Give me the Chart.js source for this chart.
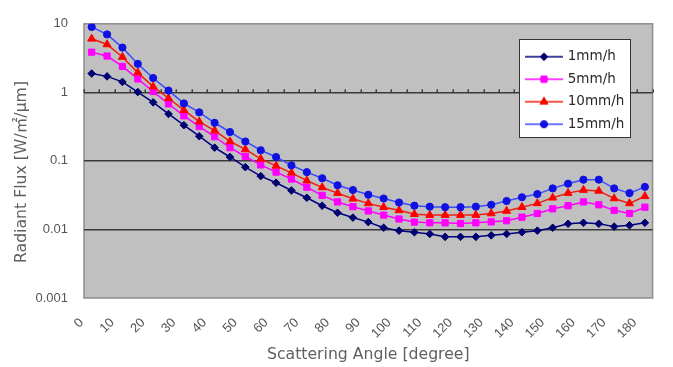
<!DOCTYPE html>
<html><head><meta charset="utf-8">
<script src="https://cdn.jsdelivr.net/npm/chart.js@4.4.1/dist/chart.umd.min.js"></script>
<style>html,body{margin:0;padding:0;background:#fff;}canvas{display:block;}</style>
</head><body>
<canvas id="c" width="673" height="367"></canvas>
<script>
// ---- data ----
const angles = ['0','5','10','15','20','25','30','35','40','45','50','55','60','65','70','75','80','85','90',
  '95','100','105','110','115','120','125','130','135','140','145','150','155','160','165','170','175','180'];
const seriesNames = ['1mm/h','5mm/h','10mm/h','15mm/h'];
const flux1mm = [1.88,1.71,1.42,1.01,0.714,0.484,0.332,0.229,0.156,0.114,0.081,0.060,0.048,0.037,0.029,0.0222,
  0.0175,0.0149,0.0128,0.0106,0.0096,0.0091,0.0086,0.0078,0.0078,0.0078,0.0082,0.0086,0.0091,0.0096,0.0106,
  0.0121,0.0125,0.0121,0.0110,0.0115,0.0125];
const flux5mm = [3.85,3.39,2.39,1.57,1.03,0.68,0.455,0.318,0.225,0.156,0.116,0.0873,0.0686,0.0544,0.0413,0.0314,
  0.0252,0.0215,0.0186,0.0162,0.0142,0.0128,0.0125,0.0125,0.0122,0.0125,0.0129,0.0134,0.0151,0.0171,0.0200,
  0.0222,0.0252,0.0229,0.0190,0.0171,0.0211];
const flux10mm = [6.04,5.0,3.28,1.94,1.21,0.82,0.55,0.373,0.277,0.192,0.147,0.107,0.0846,0.067,0.0515,0.041,
  0.0339,0.028,0.024,0.0211,0.019,0.0167,0.0162,0.0162,0.0162,0.0162,0.0171,0.0186,0.0211,0.024,0.029,
  0.0339,0.0376,0.0365,0.0283,0.024,0.0305];
const flux15mm = [9.0,7.0,4.5,2.6,1.62,1.06,0.69,0.51,0.36,0.264,0.192,0.143,0.114,0.0863,0.0686,0.0558,
  0.0441,0.0376,0.0321,0.0283,0.0247,0.0222,0.0215,0.0211,0.0211,0.0215,0.0229,0.026,0.0295,0.0328,0.0397,
  0.0465,0.0532,0.0532,0.0397,0.0339,0.0418];
const yTickValues = [10, 1, 0.1, 0.01, 0.001];
const majorGridValues = [1, 0.1, 0.01];

// ---- styles ----
const FONT = "'DejaVu Sans', 'Noto Sans CJK JP', sans-serif";
const TICKFONT = "'Liberation Sans', Arial, sans-serif";
const styles = [
  {line:'#000080', fill:'#000070', point:'rectRot', r:3.8},
  {line:'#ff00ff', fill:'#ff00ff', point:'rect', r:4.4},
  {line:'#f01e0a', fill:'#ff0000', point:'triangle', r:4.6},
  {line:'#3a4aff', fill:'#1010e0', point:'circle', r:3.6}
];

function makeIcon(s) {
  const c = document.createElement('canvas');
  c.width = 38; c.height = 12;
  const g = c.getContext('2d');
  g.strokeStyle = s.line; g.lineWidth = 1.5;
  g.beginPath(); g.moveTo(0, 6); g.lineTo(38, 6); g.stroke();
  g.fillStyle = s.fill; g.strokeStyle = s.fill; g.lineWidth = 1;
  g.beginPath();
  const cx = 19, cy = 6, r = s.r;
  if (s.point === 'rectRot') { g.moveTo(cx, cy - r); g.lineTo(cx + r, cy); g.lineTo(cx, cy + r); g.lineTo(cx - r, cy); g.closePath(); }
  else if (s.point === 'rect') { const h = r * Math.SQRT1_2; g.rect(cx - h, cy - h, 2 * h, 2 * h); }
  else if (s.point === 'triangle') { g.moveTo(cx, cy - r); g.lineTo(cx + r * 0.87, cy + r * 0.5); g.lineTo(cx - r * 0.87, cy + r * 0.5); g.closePath(); }
  else { g.arc(cx, cy, r, 0, Math.PI * 2); }
  g.fill(); g.stroke();
  return c;
}
const legendIcons = styles.map(makeIcon);

const seriesData = [flux1mm, flux5mm, flux10mm, flux15mm];
const datasets = seriesNames.map((name, i) => ({
  label: name,
  data: seriesData[i],
  borderColor: styles[i].line,
  backgroundColor: styles[i].fill,
  pointBackgroundColor: styles[i].fill,
  pointBorderColor: styles[i].fill,
  pointStyle: styles[i].point,
  pointRadius: styles[i].r,
  pointBorderWidth: 1,
  borderWidth: 1.5,
  tension: 0,
  order: 4 - i
}));

function drawCrossMarks(chart) {
  const xs = chart.scales.x, ys = chart.scales.y, ctx = chart.ctx;
  const y = ys.getPixelForValue(1);
  ctx.save();
  ctx.fillStyle = '#3c3c3c';
  for (let i = 0; i <= angles.length; i++) {
    const x = xs.getPixelForValue(i - 0.5);
    ctx.fillRect(Math.round(x) - 0.5, y - 3, 1.5, 3);
  }
  ctx.restore();
}

const framePlugin = {
  id: 'frame',
  beforeDraw(chart) {
    const {ctx, chartArea: a} = chart;
    ctx.save();
    ctx.fillStyle = '#ffffff';
    ctx.fillRect(0, 0, chart.width, chart.height);
    ctx.fillStyle = '#c0c0c0';
    ctx.fillRect(a.left, a.top, a.right - a.left, a.bottom - a.top);
    ctx.strokeStyle = '#8c8c8c';
    ctx.lineWidth = 1.5;
    ctx.strokeRect(a.left, a.top, a.right - a.left, a.bottom - a.top);
    ctx.restore();
  },
  afterLayout(chart) {
    const lg = chart.legend;
    if (!lg) return;
    lg.left = 518; lg.top = 41; lg.right = 660; lg.bottom = 220;
    if (!lg._wrapped) {
      const orig = lg.draw;
      lg.draw = function (area) {
        const ctx = chart.ctx;
        drawCrossMarks(chart);
        ctx.save();
        ctx.fillStyle = '#ffffff';
        ctx.fillRect(519.5, 39.5, 111, 98);
        ctx.strokeStyle = '#333333';
        ctx.lineWidth = 1;
        ctx.strokeRect(519.5, 39.5, 111, 98);
        ctx.restore();
        orig.call(this, area);
      };
      lg._wrapped = true;
    }
  },
  afterDraw(chart) {
    const ctx = chart.ctx;
    ctx.save();
    ctx.translate(22, 172);
    ctx.rotate(-Math.PI / 2);
    ctx.font = '15.7px ' + FONT;
    ctx.fillStyle = '#606060';
    ctx.textAlign = 'center';
    ctx.textBaseline = 'middle';
    ctx.fillText('Radiant Flux [W/㎡/μm]', 0, 0);
    ctx.restore();
  }
};

new Chart(document.getElementById('c'), {
  type: 'line',
  data: { labels: angles, datasets },
  plugins: [framePlugin],
  options: {
    responsive: false,
    animation: false,
    devicePixelRatio: 1,
    layout: { padding: { left: 0, right: 5, top: 8, bottom: 0 } },
    plugins: {
      tooltip: { enabled: false },
      legend: {
        position: 'chartArea',
        align: 'start',
        labels: {
          usePointStyle: true,
          pointStyleWidth: 34,
          padding: 9,
          color: '#2a2a2a',
          font: { family: FONT, size: 13.5 },
          generateLabels(chart) {
            const items = Chart.defaults.plugins.legend.labels.generateLabels(chart);
            items.sort((a, b) => a.datasetIndex - b.datasetIndex);
            items.forEach((it) => { it.pointStyle = legendIcons[it.datasetIndex]; });
            return items;
          }
        }
      }
    },
    scales: {
      x: {
        type: 'category',
        offset: true,
        grid: { display: false, drawTicks: false },
        border: { display: false },
        ticks: {
          autoSkip: false, minRotation: 45, maxRotation: 45,
          padding: 17, labelOffset: -10,
          color: '#555555',
          font: { family: TICKFONT, size: 13 },
          callback(v, i) { return i % 2 === 0 ? this.getLabelForValue(v) : ''; }
        },
        title: {
          display: true, text: 'Scattering Angle [degree]',
          color: '#606060', font: { family: FONT, size: 15.7 },
          padding: { top: 0, bottom: 3 }
        },
        afterFit(s) { s.height = 69; }
      },
      y: {
        type: 'logarithmic',
        min: 0.001, max: 10,
        afterBuildTicks(s) { s.ticks = yTickValues.map(v => ({ value: v })); },
        grid: {
          drawTicks: false,
          lineWidth: 1.5,
          color(ctx) { return ctx.tick && majorGridValues.includes(ctx.tick.value) ? '#3a3a3a' : 'rgba(0,0,0,0)'; }
        },
        border: { display: false },
        ticks: {
          padding: 16,
          color: '#555555',
          font: { family: TICKFONT, size: 13 },
          callback(v) { return String(v); }
        },
        afterFit(s) { s.width = 84; }
      }
    }
  }
});
</script>
</body></html>
